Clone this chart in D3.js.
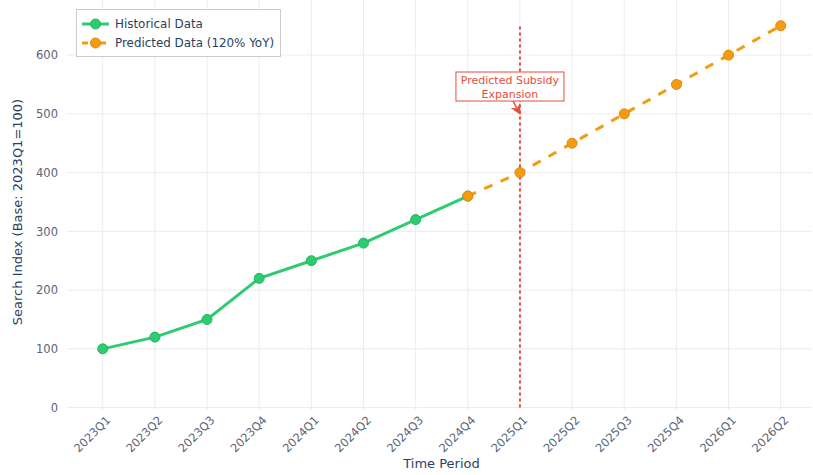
<!DOCTYPE html>
<html>
<head>
<meta charset="utf-8">
<script src="https://cdn.jsdelivr.net/npm/d3@7"></script>
<style>
  html, body { margin: 0; padding: 0; background: #fff; }
  svg { display: block; font-family: "DejaVu Sans", Verdana, sans-serif; }
</style>
</head>
<body>
<svg id="chart" width="813" height="475"></svg>
<script>
// Quarterly periods on the x axis
const periods = ["2023Q1", "2023Q2", "2023Q3", "2023Q4", "2024Q1", "2024Q2", "2024Q3",
                 "2024Q4", "2025Q1", "2025Q2", "2025Q3", "2025Q4", "2026Q1", "2026Q2"];

// Observed search index
const historicalPeriods = ["2023Q1", "2023Q2", "2023Q3", "2023Q4", "2024Q1", "2024Q2", "2024Q3", "2024Q4"];
const historicalValues  = [100, 120, 150, 220, 250, 280, 320, 360];

// Forecast, continuing from the last observed quarter
const predictedPeriods = ["2024Q4", "2025Q1", "2025Q2", "2025Q3", "2025Q4", "2026Q1", "2026Q2"];
const predictedValues  = [360, 400, 450, 500, 550, 600, 650];

const yTicks = [0, 100, 200, 300, 400, 500, 600];

// Event marker
const eventPeriod = "2025Q1";
const eventLineRange = [0, 650];
const eventArrowValue = 500;
const eventLabel = ["Predicted Subsidy", "Expansion"];

const seriesNames = ["Historical Data", "Predicted Data (120% YoY)"];

const colors = { hist: "#2ecc71", pred: "#f39c12", event: "#e74c3c",
                 grid: "#ececec", tick: "#5a6478", title: "#2a3f5f" };

const svg = d3.select("#chart");
const plot = { left: 67, right: 812, top: 0, bottom: 410 };

// Category index -> pixel, with padding either side of the first/last period
const xIdx = d3.scaleLinear().domain([-0.685, periods.length - 1 + 0.6]).range([plot.left, plot.right]);
const x = p => xIdx(periods.indexOf(p));
const y = d3.scaleLinear().domain([-4.1, 693.8]).range([plot.bottom, plot.top]);

// Gridlines
const grid = svg.append("g");
grid.selectAll("line.v").data(periods).join("line")
  .attr("x1", d => x(d)).attr("x2", d => x(d))
  .attr("y1", plot.top).attr("y2", plot.bottom)
  .attr("stroke", colors.grid).attr("stroke-width", 1);
grid.selectAll("line.h").data(yTicks).join("line")
  .attr("x1", plot.left).attr("x2", plot.right)
  .attr("y1", d => y(d)).attr("y2", d => y(d))
  .attr("stroke", colors.grid).attr("stroke-width", 1);

// Y axis labels
const yAxis = svg.append("g").attr("transform", `translate(${plot.left},0)`)
  .call(d3.axisLeft(y).tickValues(yTicks).tickSize(0).tickPadding(9));
yAxis.select(".domain").remove();
yAxis.selectAll("text").attr("fill", colors.tick).style("font-size", "11.5px")
  .style("font-family", "'DejaVu Sans', Verdana, sans-serif");

// X axis labels, rotated
const xAxisScale = d3.scalePoint().domain(periods).range([x(periods[0]), x(periods[periods.length - 1])]);
const xAxis = svg.append("g").attr("transform", `translate(0,${plot.bottom})`)
  .call(d3.axisBottom(xAxisScale).tickSize(0).tickPadding(0));
xAxis.select(".domain").remove();
xAxis.selectAll("text")
  .attr("fill", colors.tick).style("font-size", "11.5px")
  .style("font-family", "'DejaVu Sans', Verdana, sans-serif")
  .attr("text-anchor", "end")
  .attr("dy", "0.35em")
  .attr("transform", "translate(5,8) rotate(-45)");

// Axis titles
svg.append("text").attr("x", (plot.left + plot.right) / 2 + 2).attr("y", 468)
  .attr("text-anchor", "middle").attr("fill", colors.title).style("font-size", "13px")
  .text("Time Period");
svg.append("text").attr("transform", `translate(22,212) rotate(-90)`)
  .attr("text-anchor", "middle").attr("fill", colors.title).style("font-size", "13px")
  .text("Search Index (Base: 2023Q1=100)");

// Event vertical line
svg.append("line")
  .attr("x1", x(eventPeriod)).attr("x2", x(eventPeriod))
  .attr("y1", y(eventLineRange[0])).attr("y2", y(eventLineRange[1]))
  .attr("stroke", colors.event).attr("stroke-width", 2).attr("stroke-dasharray", "3,3");

// Series
const line = d3.line().x(d => x(d.p)).y(d => y(d.v));
const hist = historicalPeriods.map((p, i) => ({ p, v: historicalValues[i] }));
const pred = predictedPeriods.map((p, i) => ({ p, v: predictedValues[i] }));

svg.append("path").datum(pred).attr("d", line).attr("fill", "none")
  .attr("stroke", colors.pred).attr("stroke-width", 3).attr("stroke-dasharray", "9,9");
svg.append("path").datum(hist).attr("d", line).attr("fill", "none")
  .attr("stroke", colors.hist).attr("stroke-width", 3);

svg.append("g").selectAll("circle").data(hist).join("circle")
  .attr("cx", d => x(d.p)).attr("cy", d => y(d.v)).attr("r", 5)
  .attr("fill", colors.hist).attr("stroke", "#27b463").attr("stroke-width", 1);
svg.append("g").selectAll("circle").data(pred).join("circle")
  .attr("cx", d => x(d.p)).attr("cy", d => y(d.v)).attr("r", 5)
  .attr("fill", colors.pred).attr("stroke", "#e08a0a").attr("stroke-width", 1);

// Annotation with arrow
const tipX = x(eventPeriod), tipY = y(eventArrowValue);
const boxCx = tipX - 10, boxTop = 72, boxBottom = 101, boxW = 108;
const defs = svg.append("defs");
defs.append("marker").attr("id", "arrow").attr("viewBox", "0 0 10 10")
  .attr("refX", 9).attr("refY", 5).attr("markerWidth", 7).attr("markerHeight", 7)
  .attr("orient", "auto")
  .append("path").attr("d", "M0,0 L10,5 L0,10 L3,5 Z").attr("fill", colors.event);
svg.append("line")
  .attr("x1", boxCx + 3).attr("y1", boxBottom)
  .attr("x2", tipX).attr("y2", tipY)
  .attr("stroke", colors.event).attr("stroke-width", 1.5)
  .attr("marker-end", "url(#arrow)");
svg.append("rect").attr("x", boxCx - boxW / 2).attr("y", boxTop)
  .attr("width", boxW).attr("height", boxBottom - boxTop)
  .attr("fill", "#fff").attr("stroke", colors.event).attr("stroke-width", 1);
svg.append("text").attr("x", boxCx).attr("y", boxTop + 12)
  .attr("text-anchor", "middle").attr("fill", colors.event).style("font-size", "11px")
  .selectAll("tspan").data(eventLabel).join("tspan")
  .attr("x", boxCx).attr("dy", (d, i) => i ? 13.5 : 0).text(d => d);

// Legend
const legend = svg.append("g");
legend.append("rect").attr("x", 76.5).attr("y", 9.5).attr("width", 204).attr("height", 47)
  .attr("fill", "#fff").attr("stroke", "#cccccc").attr("stroke-width", 1);
const legendItems = [
  { name: seriesNames[0], color: colors.hist, stroke: "#27b463", dash: null },
  { name: seriesNames[1], color: colors.pred, stroke: "#e08a0a", dash: "6,3" }
];
const li = legend.selectAll("g.item").data(legendItems).join("g")
  .attr("transform", (d, i) => `translate(0,${24 + i * 19})`);
li.append("line").attr("x1", 82).attr("x2", 109).attr("y1", 0).attr("y2", 0)
  .attr("stroke", d => d.color).attr("stroke-width", 3)
  .attr("stroke-dasharray", d => d.dash);
li.append("circle").attr("cx", 95.5).attr("cy", 0).attr("r", 5)
  .attr("fill", d => d.color).attr("stroke", d => d.stroke).attr("stroke-width", 1);
li.append("text").attr("x", 115).attr("y", 0).attr("dy", "0.35em")
  .attr("fill", "#2a3f5f").style("font-size", "11.9px").text(d => d.name);
</script>
</body>
</html>
